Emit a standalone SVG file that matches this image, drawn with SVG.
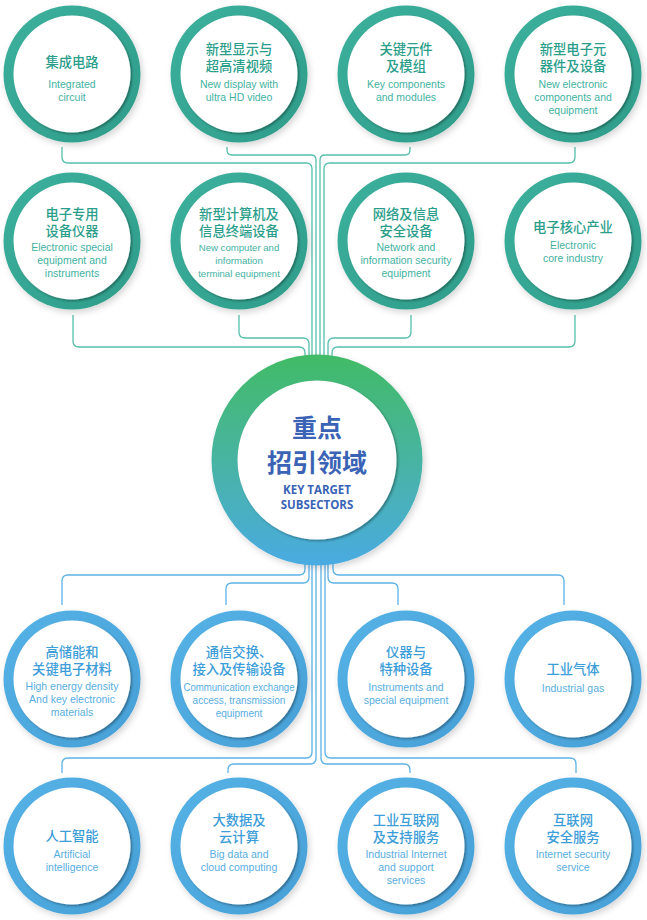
<svg xmlns="http://www.w3.org/2000/svg" width="647" height="920" viewBox="0 0 647 920">
<defs>
<linearGradient id="gT" x1="0" y1="0" x2="1" y2="1"><stop offset="0" stop-color="#3cb19d"/><stop offset="1" stop-color="#2f9c8a"/></linearGradient>
<linearGradient id="gB" x1="0" y1="0" x2="1" y2="1"><stop offset="0" stop-color="#55b3e6"/><stop offset="1" stop-color="#479fd6"/></linearGradient>
<linearGradient id="gC" x1="0" y1="0" x2="0" y2="1"><stop offset="0" stop-color="#42bb66"/><stop offset="0.5" stop-color="#47b4a2"/><stop offset="1" stop-color="#4aabe2"/></linearGradient>
<filter id="ds" x="-20%" y="-20%" width="150%" height="150%"><feDropShadow dx="2" dy="3" stdDeviation="3" flood-color="#000" flood-opacity="0.16"/></filter>
<filter id="is" x="-20%" y="-20%" width="150%" height="150%"><feDropShadow dx="1.5" dy="1.5" stdDeviation="1" flood-color="#000" flood-opacity="0.35"/></filter>
</defs>
<style>
.rt{fill:url(#gT);filter:url(#ds)}
.rb{fill:url(#gB);filter:url(#ds)}
.in{fill:#fff;filter:url(#is)}
.cn{font-family:"Noto Sans CJK SC","Noto Sans",sans-serif;font-size:13.3px;font-weight:500;text-anchor:middle}
.en{font-family:"Liberation Sans",Arial,sans-serif;font-size:10.5px;text-anchor:middle}
.t .cn{fill:#2b9e8b}
.t .en{fill:#3fb2a1}
.b .cn{fill:#3c9dd8}
.b .en{fill:#57aee1}
.ct{stroke:#55bfac;stroke-width:1.3;fill:none}
.cb{stroke:#5cb2e6;stroke-width:1.3;fill:none}
</style>
<rect width="647" height="920" fill="#fff"/>
<g id="connectors">
<path class="ct" d="M62,147V157Q62,163 68,163H306Q312,163 312,169V370"/>
<path class="ct" d="M227,147V150Q227,155 232,155H311Q316,155 316,160V370"/>
<path class="ct" d="M410,147V150Q410,155 405,155H325Q320,155 320,160V370"/>
<path class="ct" d="M575,147V157Q575,163 569,163H330Q324,163 324,169V370"/>
<path class="ct" d="M73,315V341Q73,347 79,347H299Q305,347 305,353V370"/>
<path class="ct" d="M239,315V332Q239,338 245,338H303Q309,338 309,344V370"/>
<path class="ct" d="M411,315V332Q411,338 405,338H334Q328,338 328,344V370"/>
<path class="ct" d="M575,315V341Q575,347 569,347H338Q332,347 332,353V370"/>
<path class="cb" d="M305,550V569Q305,575 299,575H68Q62,575 62,581V605"/>
<path class="cb" d="M309,550V577Q309,583 303,583H232Q226,583 226,589V605"/>
<path class="cb" d="M328,550V577Q328,583 334,583H392Q398,583 398,589V605"/>
<path class="cb" d="M333,550V569Q333,575 339,575H558Q564,575 564,581V605"/>
<path class="cb" d="M312,550V752Q312,758 306,758H68Q62,758 62,764V773"/>
<path class="cb" d="M316,550V758Q316,764 310,764H234Q228,764 228,770V773"/>
<path class="cb" d="M321,550V758Q321,764 327,764H404Q410,764 410,770V773"/>
<path class="cb" d="M325,550V752Q325,758 331,758H570Q576,758 576,764V773"/>
</g>
<g id="center">
<circle cx="317" cy="460" r="105.5" fill="url(#gC)" filter="url(#ds)"/>
<circle cx="317" cy="460" r="79.5" class="in"/>
<text x="317" y="437" font-family="Noto Sans CJK SC,sans-serif" font-size="25" font-weight="bold" fill="#3a63b6" text-anchor="middle">重点</text>
<text x="317" y="472" font-family="Noto Sans CJK SC,sans-serif" font-size="25" font-weight="bold" fill="#3a63b6" text-anchor="middle">招引领域</text>
<text x="317" y="494" font-family="Open Sans,sans-serif" font-size="11.5" font-weight="bold" fill="#3a63b6" text-anchor="middle">KEY TARGET</text>
<text x="317" y="509" font-family="Open Sans,sans-serif" font-size="11.5" font-weight="bold" fill="#3a63b6" text-anchor="middle">SUBSECTORS</text>
</g>
<g id="n1" class="t"><circle cx="72" cy="74" r="68.5" class="rt"/><circle cx="72" cy="74" r="58.5" class="in"/>
<text class="cn" x="72" y="67">集成电路</text><text class="en" x="72" y="88">Integrated</text><text class="en" x="72" y="101">circuit</text></g>
<g id="n2" class="t"><circle cx="239" cy="74" r="68.5" class="rt"/><circle cx="239" cy="74" r="58.5" class="in"/>
<text class="cn" x="239" y="54">新型显示与</text><text class="cn" x="239" y="71">超高清视频</text><text class="en" x="239" y="88">New display with</text><text class="en" x="239" y="101">ultra HD video</text></g>
<g id="n3" class="t"><circle cx="406" cy="74" r="68.5" class="rt"/><circle cx="406" cy="74" r="58.5" class="in"/>
<text class="cn" x="406" y="54">关键元件</text><text class="cn" x="406" y="71">及模组</text><text class="en" x="406" y="88">Key components</text><text class="en" x="406" y="101">and modules</text></g>
<g id="n4" class="t"><circle cx="573" cy="74" r="68.5" class="rt"/><circle cx="573" cy="74" r="58.5" class="in"/>
<text class="cn" x="573" y="54">新型电子元</text><text class="cn" x="573" y="71">器件及设备</text><text class="en" x="573" y="88">New electronic</text><text class="en" x="573" y="101">components and</text><text class="en" x="573" y="114">equipment</text></g>
<g id="n5" class="t"><circle cx="72" cy="241" r="68.5" class="rt"/><circle cx="72" cy="241" r="58.5" class="in"/>
<text class="cn" x="72" y="219">电子专用</text><text class="cn" x="72" y="236">设备仪器</text><text class="en" x="72" y="251">Electronic special</text><text class="en" x="72" y="264">equipment and</text><text class="en" x="72" y="277">instruments</text></g>
<g id="n6" class="t"><circle cx="239" cy="241" r="68.5" class="rt"/><circle cx="239" cy="241" r="58.5" class="in"/>
<text class="cn" x="239" y="219">新型计算机及</text><text class="cn" x="239" y="236">信息终端设备</text><text class="en" x="239" y="251" style="font-size:9.6px">New computer and</text><text class="en" x="239" y="264" style="font-size:9.6px">information</text><text class="en" x="239" y="277" style="font-size:9.6px">terminal equipment</text></g>
<g id="n7" class="t"><circle cx="406" cy="241" r="68.5" class="rt"/><circle cx="406" cy="241" r="58.5" class="in"/>
<text class="cn" x="406" y="219">网络及信息</text><text class="cn" x="406" y="236">安全设备</text><text class="en" x="406" y="251">Network and</text><text class="en" x="406" y="264">information security</text><text class="en" x="406" y="277">equipment</text></g>
<g id="n8" class="t"><circle cx="573" cy="241" r="68.5" class="rt"/><circle cx="573" cy="241" r="58.5" class="in"/>
<text class="cn" x="573" y="232">电子核心产业</text><text class="en" x="573" y="249">Electronic</text><text class="en" x="573" y="262">core industry</text></g>
<g id="n9" class="b"><circle cx="72" cy="679" r="68.5" class="rb"/><circle cx="72" cy="679" r="58.5" class="in"/>
<text class="cn" x="72" y="657">高储能和</text><text class="cn" x="72" y="674">关键电子材料</text><text class="en" x="72" y="690">High energy density</text><text class="en" x="72" y="703">And key electronic</text><text class="en" x="72" y="716">materials</text></g>
<g id="n10" class="b"><circle cx="239" cy="679" r="68.5" class="rb"/><circle cx="239" cy="679" r="58.5" class="in"/>
<text class="cn" x="239" y="657">通信交换、</text><text class="cn" x="239" y="674">接入及传输设备</text><text class="en" x="239" y="691" style="font-size:10px" textLength="111" lengthAdjust="spacingAndGlyphs">Communication exchange</text><text class="en" x="239" y="704" style="font-size:10px">access, transmission</text><text class="en" x="239" y="717" style="font-size:10px">equipment</text></g>
<g id="n11" class="b"><circle cx="406" cy="679" r="68.5" class="rb"/><circle cx="406" cy="679" r="58.5" class="in"/>
<text class="cn" x="406" y="657">仪器与</text><text class="cn" x="406" y="674">特种设备</text><text class="en" x="406" y="691">Instruments and</text><text class="en" x="406" y="704">special equipment</text></g>
<g id="n12" class="b"><circle cx="573" cy="679" r="68.5" class="rb"/><circle cx="573" cy="679" r="58.5" class="in"/>
<text class="cn" x="573" y="674">工业气体</text><text class="en" x="573" y="692">Industrial gas</text></g>
<g id="n13" class="b"><circle cx="72" cy="846" r="68.5" class="rb"/><circle cx="72" cy="846" r="58.5" class="in"/>
<text class="cn" x="72" y="841">人工智能</text><text class="en" x="72" y="858">Artificial</text><text class="en" x="72" y="871">intelligence</text></g>
<g id="n14" class="b"><circle cx="239" cy="846" r="68.5" class="rb"/><circle cx="239" cy="846" r="58.5" class="in"/>
<text class="cn" x="239" y="825">大数据及</text><text class="cn" x="239" y="842">云计算</text><text class="en" x="239" y="858">Big data and</text><text class="en" x="239" y="871">cloud computing</text></g>
<g id="n15" class="b"><circle cx="406" cy="846" r="68.5" class="rb"/><circle cx="406" cy="846" r="58.5" class="in"/>
<text class="cn" x="406" y="825">工业互联网</text><text class="cn" x="406" y="842">及支持服务</text><text class="en" x="406" y="858">Industrial Internet</text><text class="en" x="406" y="871">and support</text><text class="en" x="406" y="884">services</text></g>
<g id="n16" class="b"><circle cx="573" cy="846" r="68.5" class="rb"/><circle cx="573" cy="846" r="58.5" class="in"/>
<text class="cn" x="573" y="825">互联网</text><text class="cn" x="573" y="842">安全服务</text><text class="en" x="573" y="858">Internet security</text><text class="en" x="573" y="871">service</text></g>
</svg>
